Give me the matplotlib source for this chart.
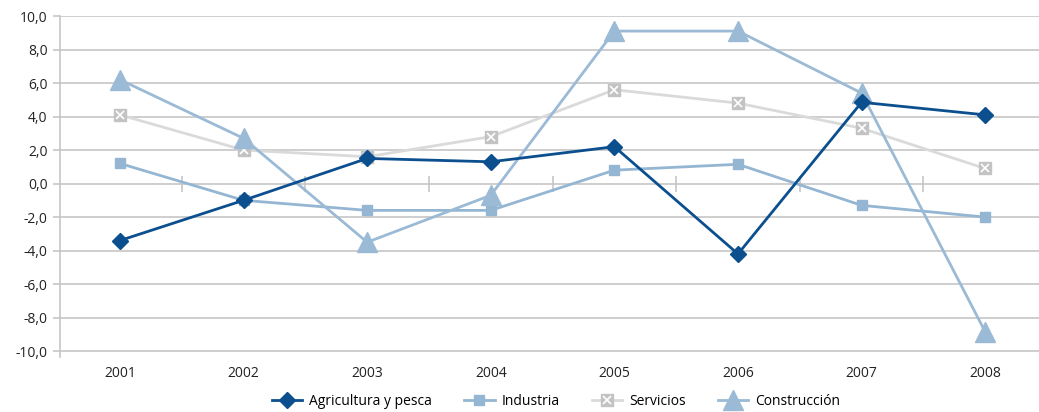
import matplotlib.pyplot as plt
from matplotlib.legend_handler import HandlerTuple
from matplotlib.transforms import blended_transform_factory

years = ["2001", "2002", "2003", "2004", "2005", "2006", "2007", "2008"]
agricultura = [-3.4, -1.0, 1.5, 1.3, 2.2, -4.2, 4.85, 4.1]
industria = [1.2, -1.0, -1.6, -1.6, 0.8, 1.15, -1.3, -2.0]
servicios = [4.1, 2.0, 1.6, 2.8, 5.6, 4.8, 3.3, 0.9]
construccion = [6.2, 2.7, -3.5, -0.7, 9.1, 9.1, 5.4, -8.85]
yticks = [-10, -8, -6, -4, -2, 0, 2, 4, 6, 8, 10]

plt.rcParams['font.family'] = ['Open Sans', 'DejaVu Sans']

fig = plt.figure(figsize=(10.39, 4.12), dpi=100)
ax = fig.add_axes([60 / 1039, 55 / 412, 979 / 1039, 341 / 412])

x = list(range(len(years)))
grid_c = "#c6c6c6"
for v in yticks:
    ax.axhline(v, color=grid_c, lw=1.2, zorder=0)

ax.plot(x, industria, color="#94b6d2", lw=2, marker="s", ms=7, zorder=3, label="Industria")
serv_line, = ax.plot(x, servicios, color="#dadada", lw=2, marker="s", ms=8,
                     mfc="#c3c3c3", mec="#c3c3c3", zorder=3)
serv_x, = ax.plot(x, servicios, ls="none", marker="x", ms=6, mew=1.2, color="white", zorder=3.1)
ax.plot(x, construccion, color="#9bbad5", lw=2, marker="^", ms=14, zorder=4, label="Construcción")
ax.plot(x, agricultura, color="#0b4f8f", lw=2, marker="D", ms=8, zorder=5, label="Agricultura y pesca")

ax.set_xlim(-0.485, 7.435)
ax.set_ylim(-10.35, 10)
ax.set_yticks(yticks)
ax.set_yticklabels([f"{v:.1f}".replace(".", ",") for v in yticks], fontsize=10, color="#222222")
ax.tick_params(axis="y", length=5, color=grid_c, width=1.2, pad=4)

for s in ["top", "right"]:
    ax.spines[s].set_visible(False)
ax.spines["left"].set_color(grid_c)
ax.spines["left"].set_linewidth(1.2)
ax.spines["bottom"].set_position(("data", 0))
ax.spines["bottom"].set_visible(False)
ax.set_xticks([i + 0.5 for i in range(len(years) - 1)])
ax.set_xticklabels([])
ax.tick_params(axis="x", direction="inout", length=12, color=grid_c, width=1.2)

tr = blended_transform_factory(ax.transData, ax.transAxes)
for i, y in enumerate(years):
    ax.text(i, -0.025, y, transform=tr, ha="center", va="top", fontsize=10, color="#222222")

handles, labels = ax.get_legend_handles_labels()
order = {l: h for h, l in zip(handles, labels)}
leg_h = [order["Agricultura y pesca"], order["Industria"], (serv_line, serv_x), order["Construcción"]]
leg_l = ["Agricultura y pesca", "Industria", "Servicios", "Construcción"]
fig.legend(leg_h, leg_l, loc="center", bbox_to_anchor=(0.535, 0.025), ncol=4, frameon=False,
           fontsize=10, handlelength=2.2, columnspacing=2.3, handletextpad=0.5,
           handler_map={tuple: HandlerTuple(ndivide=1)})

fig.savefig("out.png", dpi=100)
